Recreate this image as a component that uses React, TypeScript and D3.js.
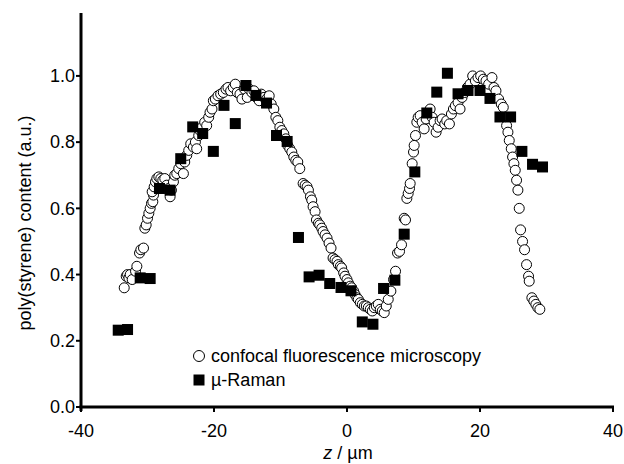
import React from "react";
import * as d3 from "d3";

const xTicks = [-40, -20, 0, 20, 40];
const yTicks = [0.0, 0.2, 0.4, 0.6, 0.8, 1.0];

const confocalZ = [
  -33.5, -33.2, -33.0, -32.8, -32.6, -32.3, -31.8, -31.6, -31.2, -31.0, -30.6, -30.4, -30.2, -30.0, -29.8, -29.6,
  -29.4, -29.2, -29.1, -29.3, -29.0, -28.8, -28.6, -28.3, -28.0, -27.7, -27.4, -27.1, -26.8, -26.6, -26.4, -26.1,
  -25.9, -25.6, -25.3, -25.0, -24.6, -24.4, -24.1, -23.8, -23.5, -23.1, -22.8, -22.6, -22.3, -22.1, -21.8, -21.4,
  -21.1, -20.8, -20.6, -20.3, -20.1, -19.8, -19.4, -19.0, -18.6, -18.2, -17.9, -17.5, -17.1, -16.8, -16.5, -16.1,
  -15.8, -15.4, -15.0, -14.7, -14.3, -14.0, -13.6, -13.2, -12.9, -12.5, -12.1, -11.7, -11.4, -11.0, -10.7, -10.4,
  -10.1, -9.8, -9.5, -9.2, -8.9, -8.6, -8.3, -8.0, -7.7, -7.4, -7.1, -6.6, -6.3, -6.0, -5.8, -5.5,
  -5.3, -5.1, -4.8, -4.6, -4.3, -4.1, -3.8, -3.6, -3.3, -3.0, -2.7, -2.4, -2.1, -1.8, -1.5, -1.3,
  -1.0, -0.8, -0.5, -0.3, 0.0, 0.2, 0.5, 0.7, 1.0, 1.2, 1.5, 1.7, 2.0, 2.3, 2.6, 2.9,
  3.2, 3.5, 3.8, 4.1, 4.4, 4.7, 5.0, 5.3, 5.6, 5.9, 6.2, 6.6, 7.0, 7.3, 7.6, 7.9,
  8.2, 8.6, 8.8, 9.0, 9.2, 9.4, 9.5, 9.8, 10.0, 10.1, 10.3, 10.5, 10.7, 11.0, 11.3, 11.6,
  11.9, 12.2, 12.5, 12.8, 13.1, 13.4, 13.7, 14.0, 14.3, 14.7, 15.0, 15.4, 15.7, 16.0, 16.3, 16.7,
  17.0, 17.3, 17.7, 18.1, 18.5, 18.9, 19.3, 19.7, 20.1, 20.5, 20.9, 21.3, 21.8, 22.1, 22.4, 22.8,
  23.2, 23.5, 23.8, 24.0, 24.2, 24.4, 24.7, 24.9, 25.1, 25.3, 25.5, 25.7, 25.9, 26.1, 26.4, 26.7,
  27.0, 27.3, 27.4, 27.8, 28.1, 28.4, 28.7, 29.0,
];
const confocalValues = [
  0.36, 0.395, 0.40, 0.39, 0.40, 0.385, 0.41, 0.425, 0.465, 0.475, 0.48, 0.54, 0.55, 0.57, 0.585, 0.60,
  0.615, 0.62, 0.64, 0.65, 0.665, 0.68, 0.69, 0.695, 0.69, 0.685, 0.69, 0.67, 0.66, 0.635, 0.655, 0.68,
  0.70, 0.705, 0.72, 0.735, 0.705, 0.74, 0.76, 0.775, 0.795, 0.785, 0.80, 0.78, 0.82, 0.835, 0.845, 0.86,
  0.85, 0.875, 0.89, 0.90, 0.925, 0.93, 0.94, 0.945, 0.95, 0.96, 0.965, 0.955, 0.965, 0.975, 0.95, 0.945,
  0.93, 0.96, 0.935, 0.96, 0.95, 0.955, 0.935, 0.925, 0.945, 0.935, 0.93, 0.94, 0.915, 0.90, 0.875, 0.865,
  0.845, 0.835, 0.825, 0.81, 0.79, 0.78, 0.77, 0.755, 0.745, 0.74, 0.72, 0.675, 0.67, 0.665, 0.655, 0.635,
  0.625, 0.605, 0.59, 0.565, 0.555, 0.55, 0.54, 0.53, 0.52, 0.51, 0.495, 0.48, 0.45, 0.445, 0.44, 0.43,
  0.425, 0.42, 0.405, 0.395, 0.385, 0.375, 0.365, 0.36, 0.35, 0.34, 0.33, 0.325, 0.315, 0.31, 0.305, 0.305,
  0.30, 0.295, 0.29, 0.30, 0.305, 0.31, 0.295, 0.29, 0.285, 0.305, 0.325, 0.35, 0.385, 0.41, 0.465, 0.47,
  0.49, 0.57, 0.565, 0.63, 0.645, 0.66, 0.675, 0.735, 0.77, 0.79, 0.82, 0.86, 0.875, 0.88, 0.86, 0.84,
  0.87, 0.89, 0.90, 0.875, 0.86, 0.83, 0.845, 0.865, 0.87, 0.855, 0.865, 0.855, 0.885, 0.90, 0.91, 0.92,
  0.90, 0.935, 0.95, 0.965, 0.975, 1.0, 0.985, 0.995, 1.0, 0.99, 0.985, 0.975, 0.995, 0.965, 0.955, 0.93,
  0.915, 0.905, 0.875, 0.85, 0.83, 0.805, 0.78, 0.755, 0.735, 0.715, 0.685, 0.655, 0.60, 0.535, 0.50, 0.475,
  0.43, 0.395, 0.38, 0.33, 0.32, 0.31, 0.30, 0.295,
];

const ramanZ = [
  -34.4, -33.0, -31.1, -29.6, -28.2, -26.6, -25.0, -23.2, -21.7, -20.1, -18.5, -16.8, -15.2, -13.7, -12.1, -10.6,
  -9.0, -7.3, -5.7, -4.2, -2.6, -0.9, 0.6, 2.3, 3.9, 5.5, 7.2, 8.6, 10.2, 12.0, 13.5, 15.1,
  16.7, 18.2, 20.0, 21.5, 23.0, 24.6, 26.3, 27.9, 29.4,
];
const ramanValues = [
  0.232, 0.234, 0.39, 0.388, 0.66, 0.655, 0.75, 0.846, 0.826, 0.772, 0.911, 0.856, 0.971, 0.941, 0.918, 0.82,
  0.802, 0.512, 0.393, 0.398, 0.373, 0.361, 0.351, 0.257, 0.25, 0.358, 0.383, 0.522, 0.71, 0.888, 0.951, 1.008,
  0.946, 0.956, 0.956, 0.932, 0.876, 0.876, 0.772, 0.733, 0.725,
];

const FONT = "'Liberation Sans', Arial, Helvetica, sans-serif";

export default function App() {
  const W = 624;
  const H = 464;
  const x = d3.scaleLinear().domain([-40, 40]).range([81, 613]);
  const y = d3.scaleLinear().domain([0, 1.19]).range([407, 13]);
  const sq = 11;

  return (
    <svg
      width={W}
      height={H}
      viewBox={`0 0 ${W} ${H}`}
      style={{ position: "absolute", left: 0, top: 0, background: "#fff" }}
      fontFamily={FONT}
    >
      <rect x={0} y={0} width={W} height={H} fill="#fff" />
      {/* confocal points */}
      <g>
        {confocalZ.map((z, i) => (
          <circle
            key={"c" + i}
            cx={x(z)}
            cy={y(confocalValues[i])}
            r={5}
            fill="#fff"
            stroke="#000"
            strokeWidth={1}
          />
        ))}
      </g>
      {/* raman points */}
      <g>
        {ramanZ.map((z, i) => (
          <rect
            key={"r" + i}
            x={x(z) - sq / 2}
            y={y(ramanValues[i]) - sq / 2}
            width={sq}
            height={sq}
            fill="#000"
          />
        ))}
      </g>
      {/* axes */}
      <line x1={x(-40)} x2={x(-40)} y1={y(1.19)} y2={y(0) + 4} stroke="#000" strokeWidth={3} />
      <line x1={x(-40) - 1.5} x2={x(40) + 1} y1={y(0)} y2={y(0)} stroke="#000" strokeWidth={3} />
      {yTicks.map((t) => (
        <g key={"yt" + t}>
          <line x1={x(-40) - 5} x2={x(-40)} y1={y(t)} y2={y(t)} stroke="#000" strokeWidth={2} />
          <text x={75} y={y(t)} dy="0.35em" textAnchor="end" fontSize={18} fill="#000">
            {t.toFixed(1)}
          </text>
        </g>
      ))}
      {xTicks.map((t) => (
        <g key={"xt" + t}>
          <line x1={x(t)} x2={x(t)} y1={y(0)} y2={y(0) + 5} stroke="#000" strokeWidth={2} />
          <text x={x(t)} y={437} textAnchor="middle" fontSize={18} fill="#000">
            {t}
          </text>
        </g>
      ))}
      {/* axis titles */}
      <text
        transform={`translate(31, 223) rotate(-90)`}
        textAnchor="middle"
        fontSize={18}
        fill="#000"
      >
        poly(styrene) content (a.u.)
      </text>
      <text x={348} y={459} textAnchor="middle" fontSize={18} fill="#000">
        <tspan fontStyle="italic">z</tspan> / µm
      </text>
      {/* legend */}
      <circle cx={199} cy={356} r={5.5} fill="#fff" stroke="#000" strokeWidth={1} />
      <text x={211} y={362} fontSize={18} fill="#000">confocal fluorescence microscopy</text>
      <rect x={199 - sq / 2} y={380 - sq / 2} width={sq} height={sq} fill="#000" />
      <text x={211} y={386} fontSize={18} fill="#000">µ-Raman</text>
    </svg>
  );
}
